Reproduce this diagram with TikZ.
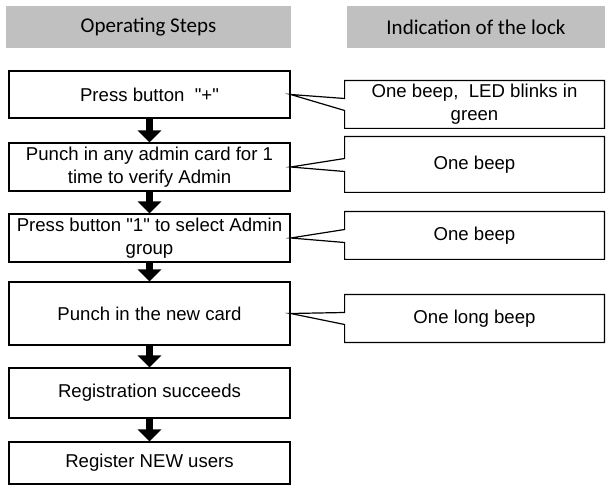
\documentclass[tikz,border=0pt]{standalone}
\usepackage{fontspec}
\setmainfont{Liberation Sans}[Ligatures=TeXOff]
\newfontfamily\headfam{Carlito}
\usetikzlibrary{arrows.meta,calc}
\definecolor{headgray}{HTML}{C0C0C0}
\newcommand{\bodyfont}{\fontsize{9.3}{11.4}\selectfont}
\newcommand{\headfont}{\headfam\fontsize{10.5}{12}\selectfont}
\begin{document}
\begin{tikzpicture}[x=0.5pt,y=0.5pt,
  head/.style={fill=headgray, minimum height=21pt, inner sep=0pt, font=\headfont},
  stepbox/.style={draw, line width=0.6pt, minimum width=140.5pt, inner sep=0pt, align=center, font=\bodyfont},
  lockbox/.style={minimum width=129.5pt, inner sep=0pt, align=center, font=\bodyfont},
  callout/.style={line width=0.6pt},
  flow/.style={line width=3.5pt, -{Triangle[width=11.5pt,length=6pt]}}]
\useasboundingbox (0,0) rectangle (608,-485);
% column heads
\node [head, minimum width=142.5pt] (hsteps) at (148.5,-27) {Operating Steps};
\node [head, minimum width=129pt] (hlock) at (476,-27) {Indication of the lock};
% operating steps
\node [stepbox, minimum height=23.5pt] (s1) at (149.5,-94.5) {Press button\ \ "+"};
\node [stepbox, minimum height=24pt] (s2) at (149.5,-167) {Punch in any admin card for 1\\time to verify Admin};
\node [stepbox, minimum height=24pt] (s3) at (149.5,-238) {Press button "1" to select Admin\\group};
\node [stepbox, minimum height=31.5pt] (s4) at (149.5,-313.5) {Punch in the new card};
\node [stepbox, minimum height=25pt] (s5) at (149.5,-393) {Registration succeeds};
\node [stepbox, minimum height=21pt] (s6) at (149.5,-463) {Register NEW users};
\draw [flow] (s1) -- (s2);
\draw [flow] (s2) -- (s3);
\draw [flow] (s3) -- (s4);
\draw [flow] (s4) -- (s5);
\draw [flow] (s5) -- (s6);
% indication of the lock
\node [lockbox, minimum height=23.5pt] (r1) at (474.5,-104.5) {One beep,\ \ LED blinks in\\green};
\node [lockbox, minimum height=27.5pt] (r2) at (474.5,-164.5) {One beep};
\node [lockbox, minimum height=23.5pt] (r3) at (474.5,-235.5) {One beep};
\node [lockbox, minimum height=23.5pt] (r4) at (474.5,-318.5) {One long beep};
\draw [callout] (s1.east) -- ($(r1.west)+(0,6)$) |- (r1.north east) |- (r1.south west) -- ($(r1.west)+(0,-6)$) -- cycle;
\draw [callout] (s2.east) -- ($(r2.west)+(0,6)$) |- (r2.north east) |- (r2.south west) -- ($(r2.west)+(0,-7)$) -- cycle;
\draw [callout] (s3.east) -- ($(r3.west)+(0,6)$) |- (r3.north east) |- (r3.south west) -- ($(r3.west)+(0,-7)$) -- cycle;
\draw [callout] (s4.east) -- ($(r4.west)+(0,6)$) |- (r4.north east) |- (r4.south west) -- ($(r4.west)+(0,-6)$) -- cycle;
\end{tikzpicture}
\end{document}
